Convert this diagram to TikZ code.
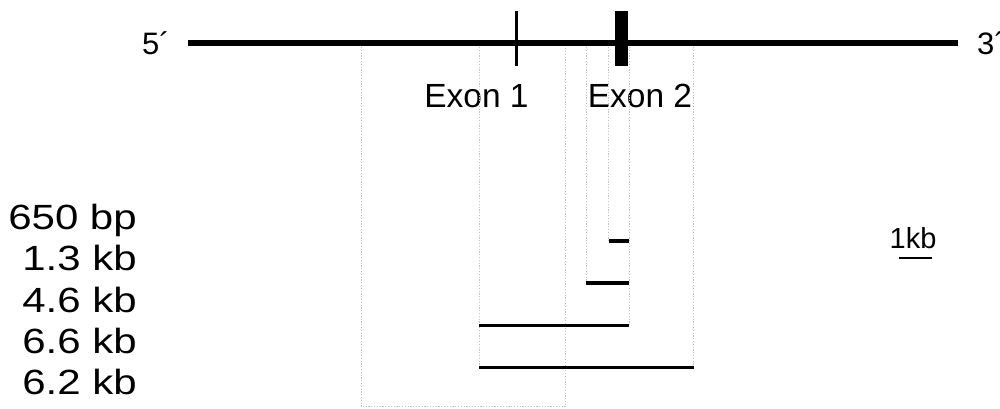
\documentclass[tikz,border=0pt]{standalone}
\usepackage{fontspec}
\setmainfont{Liberation Sans}
\definecolor{guidegray}{RGB}{195,190,195}
\begin{document}
\begin{tikzpicture}[x=1pt,y=-1pt,
  gene/.style={line width=6.8pt},
  probe/.style={line width=3.2pt},
  guide/.style={draw=guidegray, line width=0.9pt, dash pattern=on 1.2pt off 1.6pt},
  endlbl/.style={inner sep=0pt, font=\fontsize{31}{36}\selectfont},
  exonlbl/.style={inner sep=0pt, font=\fontsize{33.5}{40}\selectfont},
  sizelbl/.style={inner sep=0pt, anchor=base east, xscale=1.2, font=\fontsize{35}{40}\selectfont},
  scalelbl/.style={inner sep=0pt, font=\fontsize{29}{34}\selectfont}]
\useasboundingbox[fill=white] (0,0) rectangle (1000,408);

% gene backbone
\coordinate (g5) at (188,43);
\coordinate (g3) at (958,43);
\draw[gene] (g5) -- (g3);
\node[endlbl, anchor=base west] (p5) at (142,54) {5´};
\node[endlbl, anchor=base west] (p3) at (977,54) {3´};

% exons
\coordinate (e1t) at (516.5,11);
\coordinate (e1b) at (516.5,66);
\draw[line width=2.5pt] (e1t) -- (e1b);
\fill (615,11) rectangle (627.5,66);
\node[exonlbl, anchor=base] (ex1) at (476.5,107) {Exon 1};
\node[exonlbl, anchor=base] (ex2) at (640,107) {Exon 2};

% fragment end points on the backbone
\foreach \n/\x in {a/361,b/479,c/565.5,d/586,e/608.5,f/629,g/693.5}
  \coordinate (top\n) at (\x,47);

% fragment bars
\coordinate (s1l) at (608.5,241);   \coordinate (s1r) at (629,241);
\coordinate (s2l) at (586,283);     \coordinate (s2r) at (629,283);
\coordinate (s3l) at (479,325.5);   \coordinate (s3r) at (629,325.5);
\coordinate (s4l) at (479,367.5);   \coordinate (s4r) at (693.5,367.5);
\coordinate (boxl) at (361,406.5);  \coordinate (boxr) at (565.5,406.5);

% dotted guides
\draw[guide] (topa) -- (boxl) -- (boxr) -- (topc);
\draw[guide] (topb) -- (s4l);
\draw[guide] (topd) -- (s2l);
\draw[guide] (tope) -- (s1l);
\draw[guide] (topf) -- (s3r);
\draw[guide] (topg) -- (s4r);

\draw[probe] (s1l) -- (s1r);
\draw[probe] (s2l) -- (s2r);
\draw[probe] (s3l) -- (s3r);
\draw[probe] (s4l) -- (s4r);

% size labels
\node[sizelbl] (l1) at (137,229) {650 bp};
\node[sizelbl] (l2) at (137,270) {1.3 kb};
\node[sizelbl] (l3) at (137,312) {4.6 kb};
\node[sizelbl] (l4) at (137,353) {6.6 kb};
\node[sizelbl] (l5) at (137,394) {6.2 kb};

% scale bar
\node[scalelbl, anchor=base] (kb) at (913,248) {1kb};
\coordinate (sbl) at (899,258);
\coordinate (sbr) at (932,258);
\draw[line width=2.5pt] (sbl) -- (sbr);
\end{tikzpicture}
\end{document}
